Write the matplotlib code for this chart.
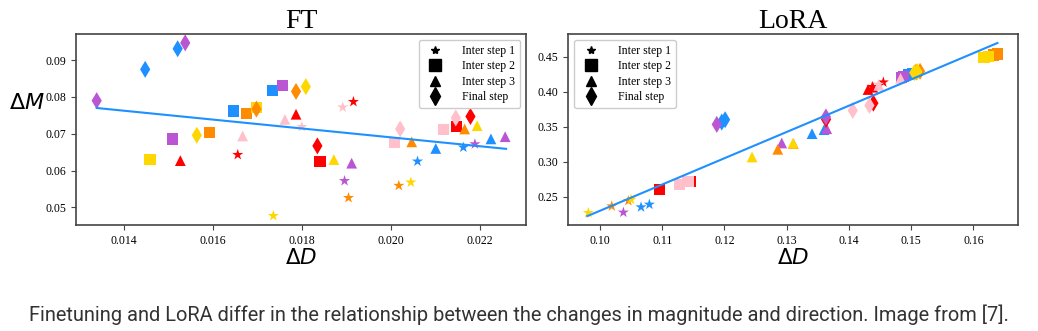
import numpy as np
import matplotlib
matplotlib.use("Agg")
import matplotlib.pyplot as plt
from matplotlib.lines import Line2D

RED, BLUE, ORANGE = "#ff0000", "#1e90ff", "#ff8c00"
GOLD, PURPLE, PINK = "#ffd700", "#ba55d3", "#ffc0cb"

STEPS = ["Inter step 1", "Inter step 2", "Inter step 3", "Final step"]

# ---- FT panel (x = delta D, y = delta M) ----
ft_star_x = [0.01655, 0.01915, 0.02059, 0.02162, 0.01895, 0.02188, 0.01904, 0.02017, 0.01735, 0.02044, 0.01799, 0.01891]
ft_star_y = [0.0643, 0.0787, 0.0625, 0.0663, 0.0572, 0.0672, 0.0526, 0.0559, 0.0477, 0.0568, 0.0719, 0.0772]
ft_star_c = [RED, RED, BLUE, BLUE, PURPLE, PURPLE, ORANGE, ORANGE, GOLD, GOLD, PINK, PINK]

ft_sq_x = [0.0184, 0.02147, 0.01645, 0.01733, 0.01509, 0.01756, 0.01591, 0.01675, 0.01458, 0.01697, 0.02008, 0.02118]
ft_sq_y = [0.0624, 0.0719, 0.0762, 0.0817, 0.0686, 0.0832, 0.0703, 0.0755, 0.0631, 0.0772, 0.0677, 0.0712]
ft_sq_c = [RED, RED, BLUE, BLUE, PURPLE, PURPLE, ORANGE, ORANGE, GOLD, GOLD, PINK, PINK]

ft_tri_x = [0.01526, 0.01786, 0.0210, 0.02224, 0.01911, 0.02256, 0.02046, 0.02165, 0.01871, 0.02193, 0.01666, 0.01761]
ft_tri_y = [0.0627, 0.0753, 0.0660, 0.0686, 0.0620, 0.0692, 0.0678, 0.0713, 0.0630, 0.0722, 0.0694, 0.0739]
ft_tri_c = [RED, RED, BLUE, BLUE, PURPLE, PURPLE, ORANGE, ORANGE, GOLD, GOLD, PINK, PINK]

ft_dia_x = [0.01834, 0.02178, 0.01447, 0.0152, 0.01338, 0.01537, 0.01697, 0.01786, 0.01563, 0.01808, 0.0202, 0.02145]
ft_dia_y = [0.0667, 0.0747, 0.0875, 0.0931, 0.0790, 0.0947, 0.0767, 0.0815, 0.0696, 0.0828, 0.0713, 0.0743]
ft_dia_c = [RED, RED, BLUE, BLUE, PURPLE, PURPLE, ORANGE, ORANGE, GOLD, GOLD, PINK, PINK]

ft_fit_x = [0.01338, 0.02258]
ft_fit_y = [0.0770, 0.0659]

# ---- LoRA panel ----
lr_star_x = [0.14553, 0.14375, 0.10659, 0.10793, 0.10375, 0.1486, 0.10188, 0.10455, 0.09812, 0.10498, 0.14473, 0.1484]
lr_star_y = [0.4135, 0.4070, 0.2355, 0.2393, 0.2280, 0.4215, 0.2369, 0.2445, 0.2274, 0.2464, 0.4102, 0.4200]
lr_star_c = [RED, RED, BLUE, BLUE, PURPLE, PURPLE, ORANGE, ORANGE, GOLD, GOLD, PINK, PINK]

lr_sq_x = [0.10953, 0.11455, 0.14955, 0.15025, 0.14849, 0.1488, 0.16321, 0.16386, 0.16172, 0.16241, 0.11275, 0.11414]
lr_sq_y = [0.2607, 0.2724, 0.4240, 0.4254, 0.4206, 0.4220, 0.4524, 0.4538, 0.4482, 0.4500, 0.2682, 0.2717]
lr_sq_c = [RED, RED, BLUE, BLUE, PURPLE, PURPLE, ORANGE, ORANGE, GOLD, GOLD, PINK, PINK]

lr_tri_x = [0.14307, 0.14383, 0.13407, 0.1360, 0.1292, 0.13643, 0.12856, 0.13107, 0.12443, 0.1310, 0.1448, 0.1483]
lr_tri_y = [0.4031, 0.4064, 0.3402, 0.3459, 0.3269, 0.3473, 0.3179, 0.3260, 0.3070, 0.3265, 0.4090, 0.4190]
lr_tri_c = [RED, RED, BLUE, BLUE, PURPLE, PURPLE, ORANGE, ORANGE, GOLD, GOLD, PINK, PINK]

lr_dia_x = [0.13632, 0.14393, 0.11956, 0.1201, 0.11876, 0.1363, 0.1508, 0.15143, 0.1505, 0.1510, 0.14061, 0.14329]
lr_dia_y = [0.3605, 0.3837, 0.3567, 0.3601, 0.3534, 0.3640, 0.4280, 0.4291, 0.4270, 0.4285, 0.3733, 0.3804]
lr_dia_c = [RED, RED, BLUE, BLUE, PURPLE, PURPLE, ORANGE, ORANGE, GOLD, GOLD, PINK, PINK]

lr_fit_x = [0.09796, 0.16386]
lr_fit_y = [0.2227, 0.4694]

MARKERS = [("*", 70), ("s", 65), ("^", 60), ("d", 75)]
SERIF = "Liberation Serif"

plt.rcParams["font.family"] = "DejaVu Sans"

fig = plt.figure(figsize=(10.38, 3.31), dpi=100)
ax1 = fig.add_axes([0.0732, 0.3202, 0.4335, 0.577])
ax2 = fig.add_axes([0.5475, 0.3202, 0.4330, 0.577])


def draw(ax, groups, fit_x, fit_y, title):
    for (m, s), (xs, ys, cs) in zip(MARKERS, groups):
        ax.scatter(xs, ys, c=cs, marker=m, s=s, linewidths=0, zorder=2)
    ax.plot(fit_x, fit_y, color=BLUE, linewidth=1.5, zorder=3)
    ax.set_title(title, fontsize=20, family=SERIF, pad=3)
    ax.set_xlabel(r"$\Delta D$", fontsize=15.5, labelpad=1)
    ax.tick_params(labelsize=8.5, color="#444")
    for sp in ax.spines.values():
        sp.set_color("#444")
        sp.set_linewidth(1.2)


handles = [Line2D([], [], linestyle="none", marker=m, color="black",
                  markersize=ms) for m, ms in zip(["*", "s", "^", "d"], [6, 8, 7, 9])]
leg_kw = dict(prop={"family": SERIF, "size": 8.5}, handletextpad=1.3, borderpad=0.4,
              labelspacing=0.3, framealpha=1)

draw(ax1, [(ft_star_x, ft_star_y, ft_star_c), (ft_sq_x, ft_sq_y, ft_sq_c),
           (ft_tri_x, ft_tri_y, ft_tri_c), (ft_dia_x, ft_dia_y, ft_dia_c)],
     ft_fit_x, ft_fit_y, "FT")
ax1.set_xlim(0.012915, 0.023027)
ax1.set_ylim(0.0452, 0.0971)
ax1.set_xticks([0.014, 0.016, 0.018, 0.020, 0.022])
ax1.set_xticklabels(["0.014", "0.016", "0.018", "0.020", "0.022"], family=SERIF)
ax1.set_yticks([0.05, 0.06, 0.07, 0.08, 0.09])
ax1.set_yticklabels(["0.05", "0.06", "0.07", "0.08", "0.09"], family=SERIF)
ax1.set_ylabel(r"$\Delta M$", fontsize=16, rotation=0, va="center", ha="center")
ax1.yaxis.set_label_coords(-0.11, 0.64)
ax1.legend(handles, STEPS, loc="upper right", **leg_kw)

draw(ax2, [(lr_star_x, lr_star_y, lr_star_c), (lr_sq_x, lr_sq_y, lr_sq_c),
           (lr_tri_x, lr_tri_y, lr_tri_c), (lr_dia_x, lr_dia_y, lr_dia_c)],
     lr_fit_x, lr_fit_y, "LoRA")
ax2.set_xlim(0.0949, 0.16713)
ax2.set_ylim(0.210, 0.4822)
ax2.set_xticks([0.10, 0.11, 0.12, 0.13, 0.14, 0.15, 0.16])
ax2.set_xticklabels(["0.10", "0.11", "0.12", "0.13", "0.14", "0.15", "0.16"], family=SERIF)
ax2.set_yticks([0.25, 0.30, 0.35, 0.40, 0.45])
ax2.set_yticklabels(["0.25", "0.30", "0.35", "0.40", "0.45"], family=SERIF)
ax2.legend(handles, STEPS, loc="upper left", **leg_kw)

fig.text(0.5, 0.048, "Finetuning and LoRA differ in the relationship between the changes in "
         "magnitude and direction. Image from [7].", ha="center", va="center",
         fontsize=14.4, color="#333333", family="Roboto")

fig.savefig("out.png", dpi=100)
